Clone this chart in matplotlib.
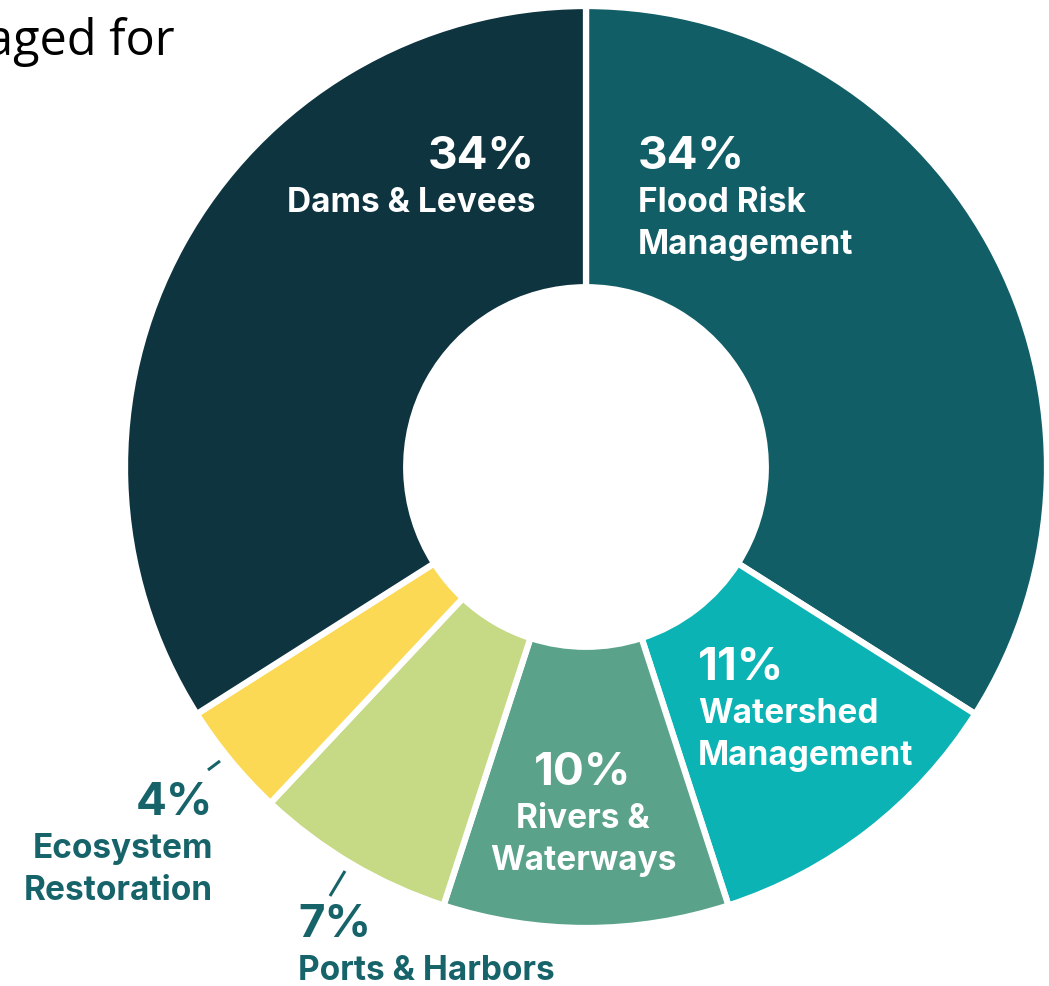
import matplotlib
matplotlib.use("Agg")
import matplotlib.pyplot as plt

# share of funding by category, clockwise from 12 o'clock
categories = ["Flood Risk\nManagement", "Watershed\nManagement", "Rivers &\nWaterways",
              "Ports & Harbors", "Ecosystem\nRestoration", "Dams & Levees"]
shares = [34, 11, 10, 7, 4, 34]
colors = ["#115e67", "#0cb3b4", "#5aa38a", "#c6d985", "#fbd955", "#0e3440"]

W, H = 1049, 986
fig = plt.figure(figsize=(W / 100, H / 100), dpi=100)
ax = fig.add_axes([0, 0, 1, 1])

cx, cy, r = 586, H - 467, 461
ax.pie(shares, colors=colors, startangle=90, counterclock=False,
       center=(cx, cy), radius=r, frame=True,
       wedgeprops=dict(width=r * 0.61, edgecolor="white", linewidth=4.5))
ax.set_xlim(0, W)
ax.set_ylim(0, H)
ax.set_aspect("equal")
ax.axis("off")

font = "Inter"
teal = "#17636a"


def label(x, y, pct, name, ha, color="white"):
    # y in image pixels from top
    ax.text(x, H - y, f"{pct}%", ha=ha, va="center", color=color,
            fontsize=33, fontweight="bold", family=font)
    lines = name.split("\n")
    for i, ln in enumerate(lines):
        ax.text(x, H - (y + 46 + 42 * i), ln, ha=ha, va="center", color=color,
                fontsize=24, fontweight="bold", family=font)


label(535, 157, shares[5], categories[5], "right")
label(638, 157, shares[0], categories[0], "left")
label(698, 668, shares[1], categories[1], "left")
label(583, 773, shares[2], categories[2], "center")
label(213, 803, shares[4], categories[4], "right", teal)
label(298, 925, shares[3], categories[3], "left", teal)

# small leader ticks for the outside labels
ax.plot([208, 220], [H - 770, H - 761], color=teal, lw=2.2, solid_capstyle="butt")
ax.plot([330, 345], [H - 896, H - 871], color=teal, lw=2.2, solid_capstyle="butt")

# clipped text from the page behind the chart
ax.text(175, H - 55, "aged for", ha="right", va="baseline", color="black",
        fontsize=35, family="Open Sans")

fig.savefig("out.png", dpi=100)
